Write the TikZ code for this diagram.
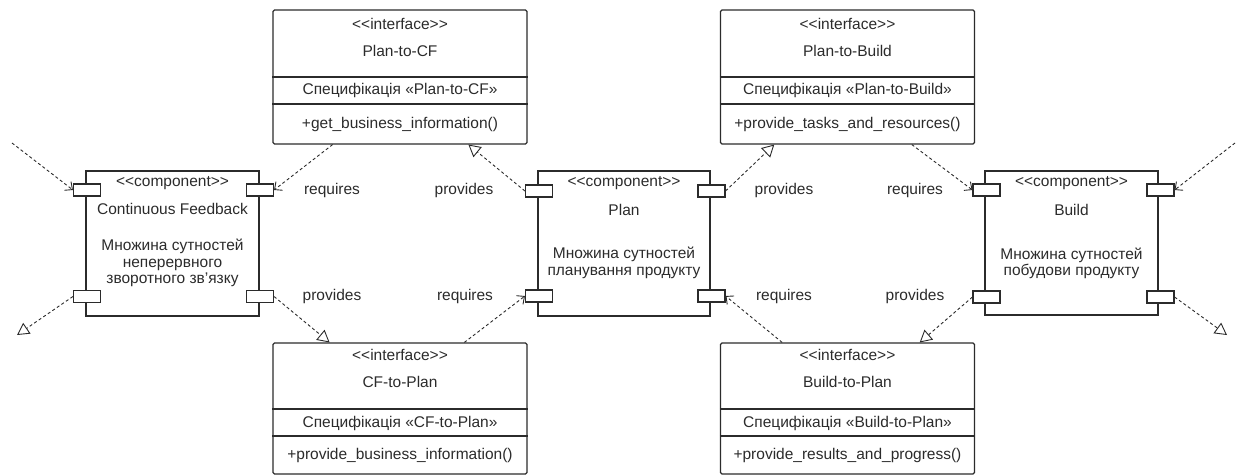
\documentclass[tikz,border=0pt]{standalone}
\usepackage{fontspec}
\setmainfont{Liberation Sans}
\usetikzlibrary{arrows.meta,calc}
\definecolor{ink}{HTML}{2B2B2B}
\tikzset{
  every node/.style={text=ink, font=\fontsize{15.5}{18.5}\selectfont},
  ifbox/.style={draw=ink, line width=1.1pt, rounded corners=1.5pt, minimum width=254pt, inner sep=0pt},
  compbox/.style={draw=ink, line width=1.1pt, inner sep=0pt},
  port/.style={draw=ink, fill=white, line width=1.1pt, minimum width=27pt, minimum height=12pt, inner sep=0pt},
  txt/.style={inner sep=0pt, anchor=center},
  link/.style={draw=ink, line width=0.9pt, dash pattern=on 3pt off 2.5pt},
  req/.style={link, -{Straight Barb[length=6pt, width=11pt, line width=0.9pt]}},
  prov/.style={link, -{Triangle[open, length=12pt, width=13pt, line width=0.9pt, fill=white]}},
}
\begin{document}
\begin{tikzpicture}[x=1pt, y=-1pt]
\useasboundingbox (0,0) rectangle (1243,475);

% ---------- interface boxes ----------
\node[ifbox, minimum height=134pt] (pcf) at (400,77) {};
\node[ifbox, minimum height=134pt] (pbd) at (847.5,77) {};
\node[ifbox, minimum height=131pt] (cfp) at (400,408.5) {};
\node[ifbox, minimum height=131pt] (bdp) at (847.5,408.5) {};

\foreach \b/\ya/\yb in {pcf/77/104, pbd/77/104, cfp/409/436, bdp/409/436}{
  \draw[draw=ink, line width=1.1pt] (\b.west |- 0,\ya) -- (\b.east |- 0,\ya);
  \draw[draw=ink, line width=1.1pt] (\b.west |- 0,\yb) -- (\b.east |- 0,\yb);
}

% texts of the upper interfaces
\node[txt] (pcf-s) at (400,24) {<{}<interface>{}>};
\node[txt] (pcf-n) at (400,51) {Plan-to-CF};
\node[txt] (pcf-p) at (400,90) {Специфікація «Plan-to-CF»};
\node[txt] (pcf-m) at (400,124) {+get\_business\_information()};

\node[txt] (pbd-s) at (847.5,24) {<{}<interface>{}>};
\node[txt] (pbd-n) at (847.5,51) {Plan-to-Build};
\node[txt] (pbd-p) at (847.5,90) {Специфікація «Plan-to-Build»};
\node[txt] (pbd-m) at (847.5,124) {+provide\_tasks\_and\_resources()};

% texts of the lower interfaces
\node[txt] (cfp-s) at (400,355) {<{}<interface>{}>};
\node[txt] (cfp-n) at (400,382) {CF-to-Plan};
\node[txt] (cfp-p) at (400,423) {Специфікація «CF-to-Plan»};
\node[txt] (cfp-m) at (400,455) {+provide\_business\_information()};

\node[txt] (bdp-s) at (847.5,355) {<{}<interface>{}>};
\node[txt] (bdp-n) at (847.5,382) {Build-to-Plan};
\node[txt] (bdp-p) at (847.5,423) {Специфікація «Build-to-Plan»};
\node[txt] (bdp-m) at (847.5,455) {+provide\_results\_and\_progress()};

% ---------- components ----------
\node[compbox, minimum width=173pt, minimum height=145pt] (cf) at (172.5,243.5) {};
\node[compbox, minimum width=172pt, minimum height=145pt] (plan) at (624,243.5) {};
\node[compbox, minimum width=173pt, minimum height=144pt] (build) at (1071.5,243) {};

\node[txt] (cf-s) at (172.5,183) {<{}<component>{}>};
\node[txt] (cf-n) at (172.5,209) {Continuous Feedback};
\node[txt] (cf-d) at (172.5,263.5) {\begin{tabular}{@{}c@{}}Множина сутностей\\[-2pt]неперервного\\[-2pt]зворотного зв'язку\end{tabular}};

\node[txt] (plan-s) at (624,183) {<{}<component>{}>};
\node[txt] (plan-n) at (624,210) {Plan};
\node[txt] (plan-d) at (624,263.5) {\begin{tabular}{@{}c@{}}Множина сутностей\\[-2pt]планування продукту\end{tabular}};

\node[txt] (build-s) at (1071.5,183) {<{}<component>{}>};
\node[txt] (build-n) at (1071.5,210) {Build};
\node[txt] (build-d) at (1071.5,264) {\begin{tabular}{@{}c@{}}Множина сутностей\\[-2pt]побудови продукту\end{tabular}};

% ports
\node[port] (cf-tl) at (87,190) {};
\node[port] (cf-bl) at (87,296.5) {};
\node[port] (cf-tr) at (260,190) {};
\node[port] (cf-br) at (260,296.5) {};
\node[port] (plan-tl) at (539,191) {};
\node[port] (plan-bl) at (539,296) {};
\node[port] (plan-tr) at (711.5,191) {};
\node[port] (plan-br) at (711.5,296) {};
\node[port] (build-tl) at (986.5,190) {};
\node[port] (build-bl) at (986.5,297) {};
\node[port] (build-tr) at (1160.5,190) {};
\node[port] (build-br) at (1160.5,297) {};

% ---------- port labels ----------
\node[txt] (l1) at (332,190) {requires};
\node[txt] (l2) at (332,296) {provides};
\node[txt] (l3) at (464,190) {provides};
\node[txt] (l4) at (465,296) {requires};
\node[txt] (l5) at (784,190) {provides};
\node[txt] (l6) at (784,296) {requires};
\node[txt] (l7) at (915,190) {requires};
\node[txt] (l8) at (915,296) {provides};

% ---------- free ends outside the picture ----------
\coordinate (in-left) at (12,143);
\coordinate (out-left) at (17,335);
\coordinate (in-right) at (1235,143);
\coordinate (out-right) at (1227,335);

% ---------- connectors ----------
\draw[req]  (in-left) -- (cf-tl.west);
\draw[prov] (cf-bl.west) -- (out-left);
\draw[req]  ($(pcf.south west)!0.236!(pcf.south east)$) -- (cf-tr.east);
\draw[prov] (cf-br.east) -- ($(cfp.north west)!0.224!(cfp.north east)$);
\draw[prov] (plan-tl.west) -- ($(pcf.south west)!0.768!(pcf.south east)$);
\draw[req]  ($(cfp.north west)!0.752!(cfp.north east)$) -- (plan-bl.west);
\draw[prov] (plan-tr.east) -- ($(pbd.south west)!0.213!(pbd.south east)$);
\draw[req]  ($(pbd.south west)!0.752!(pbd.south east)$) -- (build-tl.west);
\draw[prov] (build-bl.west) -- ($(bdp.north west)!0.783!(bdp.north east)$);
\draw[req]  ($(bdp.north west)!0.244!(bdp.north east)$) -- (plan-br.east);
\draw[req]  (in-right) -- (build-tr.east);
\draw[prov] (build-br.east) -- (out-right);
\end{tikzpicture}
\end{document}
